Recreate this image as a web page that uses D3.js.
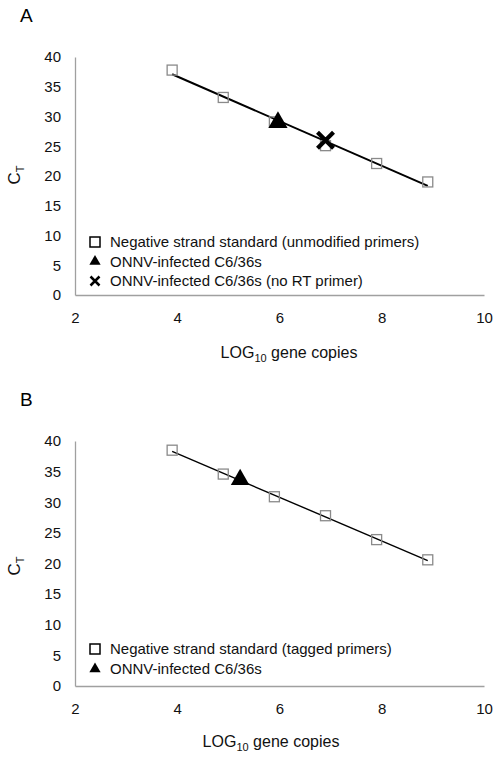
<!DOCTYPE html>
<html><head><meta charset="utf-8">
<script src="https://cdn.jsdelivr.net/npm/d3@7/dist/d3.min.js"></script>
<style>body{margin:0;background:#fff}svg{display:block;font-family:"Liberation Sans",Arial,Helvetica,sans-serif}</style>
</head><body><svg id="c" width="498" height="758"></svg>
<script>
// Panel A data
const aStdX = [3.9, 4.9, 5.9, 6.9, 7.9, 8.9];
const aStdY = [37.8, 33.2, 29.1, 25.1, 22.1, 19.0];
const aInfX = [5.97];
const aInfY = [29.0];
const aNoRtX = [6.9];
const aNoRtY = [26.0];
// Panel B data
const bStdX = [3.9, 4.9, 5.9, 6.9, 7.9, 8.9];
const bStdY = [38.5, 34.6, 30.9, 27.8, 23.9, 20.6];
const bInfX = [5.23];
const bInfY = [33.7];
// ticks
const xTicks = [2, 4, 6, 8, 10];
const yTicks = [0, 5, 10, 15, 20, 25, 30, 35, 40];
const legendA = ["Negative strand standard (unmodified primers)", "ONNV-infected C6/36s", "ONNV-infected C6/36s (no RT primer)"];
const legendB = ["Negative strand standard (tagged primers)", "ONNV-infected C6/36s"];

const svg = d3.select("#c");

function fit(xs, ys) {
  const mx = d3.mean(xs), my = d3.mean(ys);
  let sxy = 0, sxx = 0;
  xs.forEach((x, i) => { sxy += (x - mx) * (ys[i] - my); sxx += (x - mx) * (x - mx); });
  const m = sxy / sxx;
  return x => my + m * (x - mx);
}

function panel(o) {
  const g = svg.append("g");
  const x = d3.scaleLinear().domain([2, 10]).range([75, 484]);
  const y = d3.scaleLinear().domain([0, 40]).range([o.y0, o.y40]);
  // panel letter
  g.append("text").attr("x", 20).attr("y", o.letterY).attr("font-size", 19).text(o.letter);
  // axes
  const ya = g.append("g").attr("transform", "translate(75,0)")
    .call(d3.axisLeft(y).tickValues(yTicks).tickSize(0).tickPadding(14));
  const xa = g.append("g").attr("transform", `translate(0,${o.y0})`)
    .call(d3.axisBottom(x).tickValues(xTicks).tickSize(0).tickPadding(17));
  [ya, xa].forEach(a => {
    a.select(".domain").attr("stroke", "#a0a0a0").attr("stroke-width", 1.3);
    a.selectAll("text").attr("font-size", 15).attr("fill", "#111").attr("font-family", "Liberation Sans, Arial, sans-serif");
  });
  // axis titles
  const xt = g.append("text").attr("x", o.xTitleX).attr("y", o.xTitleY).attr("text-anchor", "middle")
    .attr("font-size", 16).attr("fill", "#111");
  xt.append("tspan").text("LOG");
  xt.append("tspan").attr("font-size", 11).attr("dy", 4).text("10");
  xt.append("tspan").attr("dy", -4).text(" gene copies");
  const yt = g.append("text").attr("transform", `translate(${o.yTitleX},${o.yTitleY}) rotate(-90)`)
    .attr("text-anchor", "middle").attr("font-size", 17).attr("fill", "#111");
  yt.append("tspan").text("C");
  yt.append("tspan").attr("font-size", 11).attr("dy", 4).text("T");
  // trendline
  const f = fit(o.stdX, o.stdY);
  const x0 = d3.min(o.stdX), x1 = d3.max(o.stdX);
  g.append("line").attr("x1", x(x0)).attr("y1", y(f(x0))).attr("x2", x(x1)).attr("y2", y(f(x1)))
    .attr("stroke", "#000").attr("stroke-width", o.lw);
  // squares
  const s = 10;
  g.selectAll(".sq").data(o.stdX.map((v, i) => [v, o.stdY[i]])).enter().append("rect")
    .attr("x", d => x(d[0]) - s / 2).attr("y", d => y(d[1]) - s / 2).attr("width", s).attr("height", s)
    .attr("fill", "none").attr("stroke", "#8a8a8a").attr("stroke-width", 1.3);
  // triangles
  const tri = d3.symbol().type(d3.symbolTriangle).size(o.triSize);
  g.selectAll(".tri").data(o.infX.map((v, i) => [v, o.infY[i]])).enter().append("path")
    .attr("d", tri).attr("transform", d => `translate(${x(d[0])},${y(d[1])})`).attr("fill", "#000");
  // crosses
  if (o.noX) {
    const c = 8;
    o.noX.forEach((v, i) => {
      const cx = x(v), cy = y(o.noY[i]);
      g.append("path").attr("d", `M${cx - c},${cy - c}L${cx + c},${cy + c}M${cx - c},${cy + c}L${cx + c},${cy - c}`)
        .attr("stroke", "#000").attr("stroke-width", 4.2);
    });
  }
  // legend
  o.legend.forEach((t, i) => {
    const ly = o.legY + i * o.legStep;
    const mx = 95;
    if (i === 0) g.append("rect").attr("x", mx - 5).attr("y", ly - 5).attr("width", 10).attr("height", 10)
      .attr("fill", "none").attr("stroke", "#000").attr("stroke-width", 1.5);
    else if (i === 1) g.append("path").attr("d", d3.symbol().type(d3.symbolTriangle).size(55))
      .attr("transform", `translate(${mx},${ly})`).attr("fill", "#000");
    else g.append("path").attr("d", `M${mx - 4.5},${ly - 4.5}L${mx + 4.5},${ly + 4.5}M${mx - 4.5},${ly + 4.5}L${mx + 4.5},${ly - 4.5}`)
      .attr("stroke", "#000").attr("stroke-width", 2.5);
    g.append("text").attr("x", 110).attr("y", ly).attr("dy", "0.35em").attr("font-size", 15).attr("fill", "#111").text(t);
  });
}

panel({letter: "A", letterY: 22, y0: 295, y40: 57, stdX: aStdX, stdY: aStdY, infX: aInfX, infY: aInfY,
  noX: aNoRtX, noY: aNoRtY, legend: legendA, legY: 242, legStep: 19.5, lw: 2, triSize: 160,
  xTitleX: 289, xTitleY: 358, yTitleX: 20, yTitleY: 175});
panel({letter: "B", letterY: 406, y0: 686, y40: 441, stdX: bStdX, stdY: bStdY, infX: bInfX, infY: bInfY,
  noX: null, noY: null, legend: legendB, legY: 649, legStep: 20, lw: 1.4, triSize: 150,
  xTitleX: 271, xTitleY: 747, yTitleX: 20, yTitleY: 566});
</script></body></html>
